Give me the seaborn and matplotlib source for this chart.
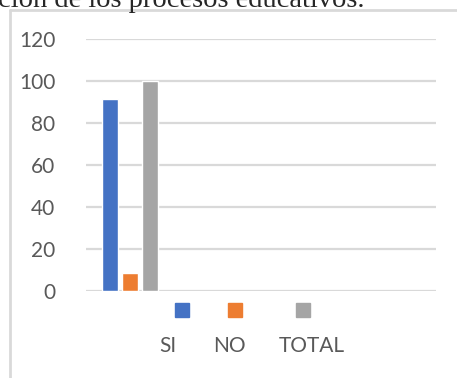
import pandas as pd
import matplotlib.pyplot as plt
import seaborn as sns
from matplotlib.patches import Rectangle

# chart data
series = ["SI", "NO", "TOTAL"]
values = [91.5, 8.5, 100]
colors = ["#4472C4", "#ED7D31", "#A5A5A5"]
groups = ["1", "2", "3", "4"]   # only the first group holds values
y_ticks = [0, 20, 40, 60, 80, 100, 120]

W, H = 457, 378
sns.set_style("white")
plt.rcParams['font.family'] = ['Lato', 'DejaVu Sans']

df = pd.DataFrame({"grupo": [groups[0]] * len(series), "serie": series, "valor": values})

fig = plt.figure(figsize=(W / 100, H / 100), dpi=100)
ax = fig.add_axes([86 / W, 1 - 291 / H, 350 / W, (291 - 39) / H])

sns.barplot(data=df, x="grupo", y="valor", hue="serie", order=groups,
            hue_order=series, palette=colors, width=0.687, gap=0.2,
            saturation=1, legend=False, ax=ax)

ax.set_ylim(0, 120)
ax.set_xlim(-0.5, len(groups) - 0.5)
ax.set_yticks(y_ticks)
ax.yaxis.grid(True, color="#d9d9d9", linewidth=1.6)
ax.set_axisbelow(True)
ax.tick_params(axis="y", length=0, pad=22, labelsize=15, labelcolor="#595959")
ax.tick_params(axis="x", length=0, labelbottom=False)
ax.set_xlabel("")
ax.set_ylabel("")
for s in ax.spines.values():
    s.set_visible(False)

# chart frame (partly visible)
fig.add_artist(plt.Line2D([9.5 / W, 9.5 / W], [0, 1 - 10 / H], color="#d9d9d9", linewidth=2))
fig.add_artist(plt.Line2D([9.5 / W, 1], [1 - 10 / H, 1 - 10 / H], color="#d9d9d9", linewidth=2))

# legend: keys above labels
key_x = [175, 228, 296]
label_x = [168, 229, 312]
for name, c, kx, lx in zip(series, colors, key_x, label_x):
    fig.add_artist(Rectangle((kx / W, 1 - 317 / H), 14 / W, 14 / H,
                             transform=fig.transFigure, color=c))
    fig.text(lx / W, 1 - 346 / H, name, ha="center", va="center",
             fontsize=15, color="#595959")

# cropped caption from the document above the chart
fig.text(-2 / W, 1 - 7 / H, "ción de los procesos educativos.", ha="left",
         va="baseline", fontsize=20.5, family=["Liberation Serif", "DejaVu Serif"])

fig.savefig("out.png", dpi=100)
